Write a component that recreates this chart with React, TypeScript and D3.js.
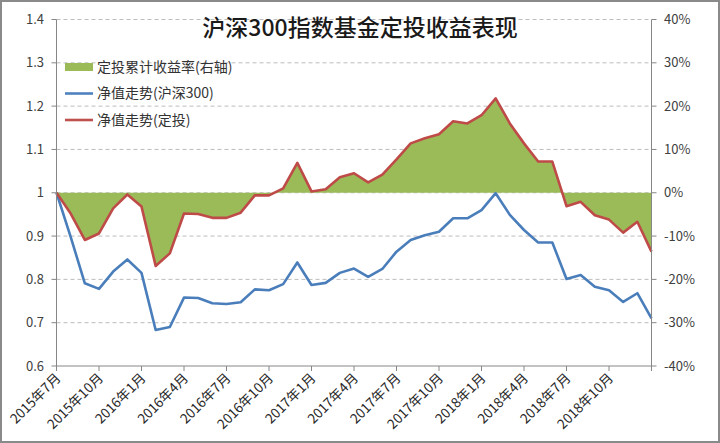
import * as d3 from 'd3';

const months = [
  '2015年7月', '2015年8月', '2015年9月', '2015年10月', '2015年11月', '2015年12月',
  '2016年1月', '2016年2月', '2016年3月', '2016年4月', '2016年5月', '2016年6月',
  '2016年7月', '2016年8月', '2016年9月', '2016年10月', '2016年11月', '2016年12月',
  '2017年1月', '2017年2月', '2017年3月', '2017年4月', '2017年5月', '2017年6月',
  '2017年7月', '2017年8月', '2017年9月', '2017年10月', '2017年11月', '2017年12月',
  '2018年1月', '2018年2月', '2018年3月', '2018年4月', '2018年5月', '2018年6月',
  '2018年7月', '2018年8月', '2018年9月', '2018年10月', '2018年11月', '2018年12月',
  '2019年1月',
];

// 定投累计收益率 (%), right axis
const sipReturn = [
  0, -4.8, -10.9, -9.4, -3.6, -0.4, -3.2, -16.9, -14.0, -4.8, -4.9, -5.8, -5.8, -4.6,
  -0.6, -0.6, 1.0, 6.9, 0.3, 0.8, 3.6, 4.5, 2.4, 4.2, 7.7, 11.4, 12.6, 13.5, 16.5,
  16.0, 17.9, 21.8, 16.0, 11.4, 7.2, 7.2, -3.1, -2.1, -5.2, -6.2, -9.2, -6.7, -13.6,
];

// 净值走势(沪深300), left axis
const hs300Nav = [
  1.0, 0.898, 0.791, 0.778, 0.818, 0.846, 0.815, 0.683, 0.69, 0.758, 0.757, 0.745,
  0.743, 0.747, 0.777, 0.775, 0.789, 0.839, 0.787, 0.792, 0.815, 0.825, 0.806, 0.824,
  0.864, 0.891, 0.902, 0.91, 0.941, 0.941, 0.96, 0.999, 0.949, 0.914, 0.885, 0.885,
  0.801, 0.81, 0.783, 0.775, 0.748, 0.768, 0.71,
];

// 净值走势(定投), left axis
const sipNav = [
  1.0, 0.952, 0.891, 0.906, 0.964, 0.996, 0.968, 0.831, 0.86, 0.952, 0.951, 0.942,
  0.942, 0.954, 0.994, 0.994, 1.01, 1.069, 1.003, 1.008, 1.036, 1.045, 1.024, 1.042,
  1.077, 1.114, 1.126, 1.135, 1.165, 1.16, 1.179, 1.218, 1.16, 1.114, 1.072, 1.072,
  0.969, 0.979, 0.948, 0.938, 0.908, 0.933, 0.864,
];

const leftTicks = [0.6, 0.7, 0.8, 0.9, 1.0, 1.1, 1.2, 1.3, 1.4];
const rightTicks = [-40, -30, -20, -10, 0, 10, 20, 30, 40];

const legendItems = [
  { label: '定投累计收益率(右轴)', color: '#9bbb59', kind: 'area' },
  { label: '净值走势(沪深300)', color: '#4f81bd', kind: 'line' },
  { label: '净值走势(定投)', color: '#c0504d', kind: 'line' },
];

const W = 720;
const H = 443;
const left = 56.5;
const right = 651.5;
const top = 19.5;
const bottom = 366;
const font = '"Noto Sans CJK SC", "DejaVu Sans", sans-serif';

export default function App() {
  const idx = months.map((_, i) => i);
  const x = d3.scaleLinear().domain([0, months.length - 1]).range([left, right]);
  const yL = d3.scaleLinear().domain([0.6, 1.4]).range([bottom, top]);
  const yR = d3.scaleLinear().domain([-40, 40]).range([bottom, top]);

  const area = d3
    .area<number>()
    .x((i) => x(i))
    .y0(yR(0))
    .y1((i) => yR(sipReturn[i]));
  const lineHs = d3
    .line<number>()
    .x((i) => x(i))
    .y((i) => yL(hs300Nav[i]));
  const lineSip = d3
    .line<number>()
    .x((i) => x(i))
    .y((i) => yL(sipNav[i]));

  const xTicks = idx.filter((i) => i % 3 === 0);
  const fmtL = (v: number) => String(+v.toFixed(1));

  return (
    <svg
      width={W}
      height={H}
      style={{ position: 'absolute', left: 0, top: 0, background: '#fff' }}
      fontFamily={font}
    >
      <rect x={0} y={0} width={W} height={H} fill="#fff" />
      <rect x={1} y={1} width={W - 2} height={H - 2} fill="none" stroke="#8a8a8a" strokeWidth={2} />

      {/* grid */}
      {leftTicks.slice(1).map((t) => (
        <line
          key={'g' + t}
          x1={left}
          x2={right}
          y1={yL(t)}
          y2={yL(t)}
          stroke="#bcbcbc"
          strokeWidth={1}
          strokeDasharray="4,3"
        />
      ))}

      {/* series */}
      <path d={area(idx) ?? ''} fill="#9bbb59" />
      <path d={lineHs(idx) ?? ''} fill="none" stroke="#4a7ebb" strokeWidth={2.6} strokeLinejoin="round" />
      <path d={lineSip(idx) ?? ''} fill="none" stroke="#be4b48" strokeWidth={2.6} strokeLinejoin="round" />

      {/* axes */}
      <line x1={left} x2={left} y1={top} y2={bottom} stroke="#868686" />
      <line x1={right} x2={right} y1={top} y2={bottom} stroke="#868686" />
      <line x1={left} x2={right} y1={bottom} y2={bottom} stroke="#868686" />

      {leftTicks.map((t) => (
        <g key={'l' + t}>
          <line x1={left - 5} x2={left} y1={yL(t)} y2={yL(t)} stroke="#868686" />
          <text x={44} y={yL(t)} dy="0.35em" textAnchor="end" fontSize={13} fill="#404040">
            {fmtL(t)}
          </text>
        </g>
      ))}
      {rightTicks.map((t) => (
        <g key={'r' + t}>
          <line x1={right} x2={right + 5} y1={yR(t)} y2={yR(t)} stroke="#868686" />
          <text x={664} y={yR(t)} dy="0.35em" textAnchor="start" fontSize={13} fill="#404040">
            {t + '%'}
          </text>
        </g>
      ))}
      {xTicks.map((i) => (
        <g key={'x' + i}>
          <line x1={x(i)} x2={x(i)} y1={bottom} y2={bottom + 5} stroke="#868686" />
          {i < months.length - 1 && (
            <text
              transform={`translate(${x(i) + 5},${bottom + 13}) rotate(-45)`}
              textAnchor="end"
              fontSize={13.5}
              fill="#262626"
            >
              {months[i]}
            </text>
          )}
        </g>
      ))}

      {/* title */}
      <text x={360} y={36} textAnchor="middle" fontSize={23} fontWeight={500} fill="#1a1a1a">
        沪深300指数基金定投收益表现
      </text>

      {/* legend */}
      {legendItems.map((d, k) => {
        const cy = 67 + k * 26.5;
        return (
          <g key={d.label}>
            {d.kind === 'area' ? (
              <rect x={65} y={cy - 4} width={28} height={8} fill={d.color} />
            ) : (
              <line x1={65} x2={93} y1={cy} y2={cy} stroke={d.color} strokeWidth={2.6} />
            )}
            <text x={97} y={cy} dy="0.35em" fontSize={14} fill="#333">
              {d.label}
            </text>
          </g>
        );
      })}
    </svg>
  );
}
